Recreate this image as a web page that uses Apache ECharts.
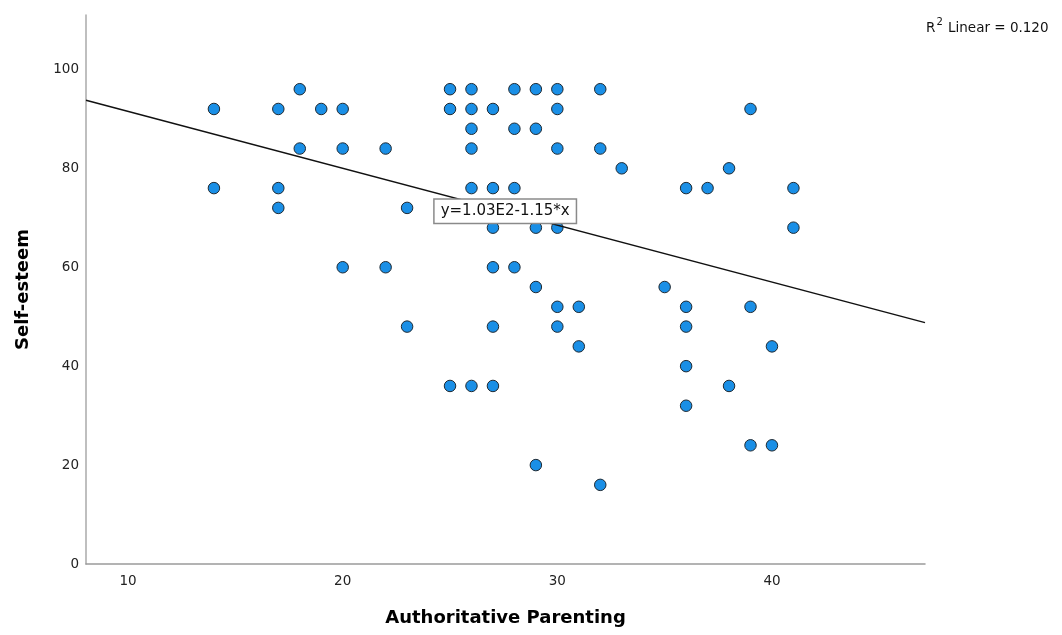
<!DOCTYPE html>
<html>
<head>
<meta charset="utf-8">
<script src="https://cdn.jsdelivr.net/npm/echarts@6/dist/echarts.min.js"></script>
<style>html,body{margin:0;padding:0;background:#fff}#c{width:1062px;height:635px}</style>
</head>
<body>
<div id="c"></div>
<script>
// Data
const parenting = [14,14, 17,17,17, 18,18, 19, 20,20,20, 22,22, 23,23, 25,25,25,
  26,26,26,26,26,26, 27,27,27,27,27,27, 28,28,28,28, 29,29,29,29,29,
  30,30,30,30,30,30, 31,31, 32,32,32, 33, 35, 36,36,36,36,36, 37, 38,38,
  39,39,39, 40,40, 41,41];
const selfEsteem = [92,76, 92,76,72, 96,84, 92, 92,84,60, 84,60, 72,48, 96,92,36,
  96,92,88,84,76,36, 92,76,68,60,48,36, 96,88,76,60, 96,88,68,56,20,
  96,92,84,68,52,48, 52,44, 96,84,16, 80, 56, 76,52,48,40,32, 76, 80,36,
  92,52,24, 44,24, 76,68];
const xTicks = [10, 20, 30, 40];
const yTicks = [0, 20, 40, 60, 80, 100];
const fitIntercept = 103;
const fitSlope = -1.15;
const fitLabel = 'y=1.03E2-1.15*x';
const r2Text = '0.120';
const xMin = 8.04, xMax = 47.13, yMin = 0, yMax = 111;

const points = parenting.map((x, i) => [x, selfEsteem[i]]);
const fitLine = [[xMin, fitIntercept + fitSlope * xMin], [xMax, fitIntercept + fitSlope * xMax]];
const font = 'DejaVu Sans';

const chart = echarts.init(document.getElementById('c'));
chart.setOption({
  backgroundColor: '#fff',
  animation: false,
  grid: {left: 86, right: 137, top: 15, bottom: 71, containLabel: false},
  xAxis: {
    type: 'value', min: xMin, max: xMax,
    name: 'Authoritative Parenting', nameLocation: 'middle', nameGap: 45,
    nameTextStyle: {fontFamily: font, fontWeight: 'bold', fontSize: 18, color: '#000'},
    axisLine: {show: true, onZero: false, lineStyle: {color: '#9a9a9a', width: 1.5}},
    axisTick: {show: false},
    splitLine: {show: false},
    axisLabel: {customValues: xTicks, fontFamily: font, fontSize: 13.5, color: '#222', margin: 10}
  },
  yAxis: {
    type: 'value', min: yMin, max: yMax,
    name: 'Self-esteem', nameLocation: 'middle', nameGap: 54, nameRotate: 90,
    nameTextStyle: {fontFamily: font, fontWeight: 'bold', fontSize: 18, color: '#000'},
    axisLine: {show: true, onZero: false, lineStyle: {color: '#aaaaaa', width: 1.5}},
    axisTick: {show: false},
    splitLine: {show: false},
    axisLabel: {customValues: yTicks, fontFamily: font, fontSize: 13.5, color: '#222', margin: 7}
  },
  series: [
    {
      type: 'scatter', data: points, symbol: 'circle', symbolSize: 11.5,
      itemStyle: {color: '#1a8fe6', borderColor: '#1f2a33', borderWidth: 1, opacity: 1},
      z: 3
    },
    {
      type: 'line', data: fitLine, showSymbol: false, symbol: 'none',
      lineStyle: {color: '#111', width: 1.5}, z: 4,
      markPoint: {
        symbol: 'circle', symbolSize: 0,
        label: {
          show: true, position: 'inside', formatter: fitLabel, color: '#111',
          fontFamily: font, fontSize: 15,
          backgroundColor: '#fff', borderColor: '#8a8a8a', borderWidth: 1.5,
          padding: [4, 6, 4, 6]
        },
        data: [{coord: [27.57, 71.3]}],
        z: 10
      }
    }
  ],
  graphic: [{
    type: 'text', left: 926, top: 17,
    style: {
      text: '{a|R}{s|2}{a| Linear = ' + r2Text + '}',
      rich: {
        a: {fontFamily: font, fontSize: 13.5, fill: '#111', verticalAlign: 'bottom', lineHeight: 18},
        s: {fontFamily: font, fontSize: 10, fill: '#111', verticalAlign: 'top', lineHeight: 18, padding: [0,1,6,1]}
      }
    }
  }]
});
</script>
</body>
</html>
